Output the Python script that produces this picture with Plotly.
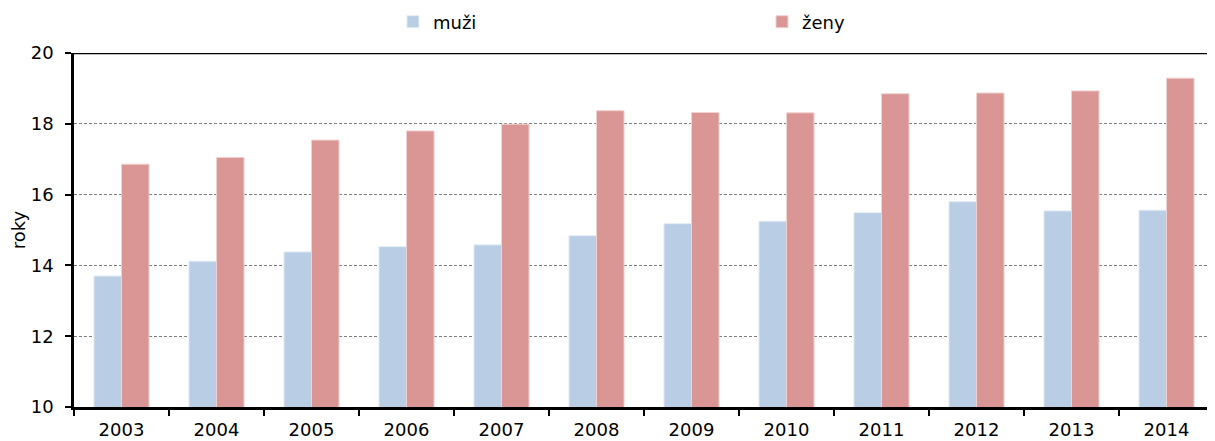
import plotly.graph_objects as go

years = ["2003", "2004", "2005", "2006", "2007", "2008", "2009", "2010", "2011", "2012", "2013", "2014"]
muzi = [13.70, 14.12, 14.38, 14.53, 14.58, 14.84, 15.18, 15.25, 15.49, 15.80, 15.54, 15.56]
zeny = [16.86, 17.05, 17.54, 17.80, 17.99, 18.37, 18.32, 18.31, 18.85, 18.87, 18.93, 19.29]
y_ticks = [10, 12, 14, 16, 18, 20]

FONT = "DejaVu Sans, Verdana, sans-serif"
FS = 18

# page body has an 8px margin, so figure is placed at (8, 8)
W, H = 1207, 433

fig = go.Figure()
fig.add_trace(go.Bar(x=years, y=muzi, name="muži",
                     marker=dict(color="#B9CDE5", line=dict(color="#E4ECF6", width=1))))
fig.add_trace(go.Bar(x=years, y=zeny, name="ženy",
                     marker=dict(color="#D99694", line=dict(color="#F0D2D1", width=1))))

fig.update_layout(
    width=W, height=H,
    margin=dict(l=66, r=1, t=45, b=34, autoexpand=False),
    paper_bgcolor="white", plot_bgcolor="white",
    barmode="group", bargap=0.42, bargroupgap=0,
    font=dict(family=FONT, size=FS, color="black"),
    showlegend=True,
    legend=dict(orientation="h", x=0.2798, xanchor="left",
                yref="container", y=(H - 14) / H, yanchor="middle",
                entrywidth=324, entrywidthmode="pixels",
                itemwidth=30, font=dict(family=FONT, size=FS),
                bgcolor="rgba(0,0,0,0)", tracegroupgap=0),
    xaxis=dict(type="category", showline=True, linecolor="black", linewidth=2.5,
               ticks="outside", tickson="boundaries", ticklen=6, tickwidth=1.5,
               tickcolor="black", showgrid=False, tickfont=dict(size=FS), automargin=False,
               ticklabelstandoff=5),
    yaxis=dict(range=[10, 20], tickvals=y_ticks, showline=True, linecolor="black",
               linewidth=2.5, ticks="outside", ticklen=6, tickwidth=1.5, tickcolor="black",
               showgrid=True, gridcolor="#7f7f7f", gridwidth=1, griddash="3px,2px",
               zeroline=False, tickfont=dict(size=FS), automargin=False,
               ticklabelstandoff=8,
               title=dict(text="roky", font=dict(size=FS), standoff=5)),
)

fig.add_shape(type="line", xref="paper", yref="y", x0=0, x1=1, y0=20, y1=20,
              line=dict(color="black", width=2.5), layer="above")

fig.write_html("out.html")
